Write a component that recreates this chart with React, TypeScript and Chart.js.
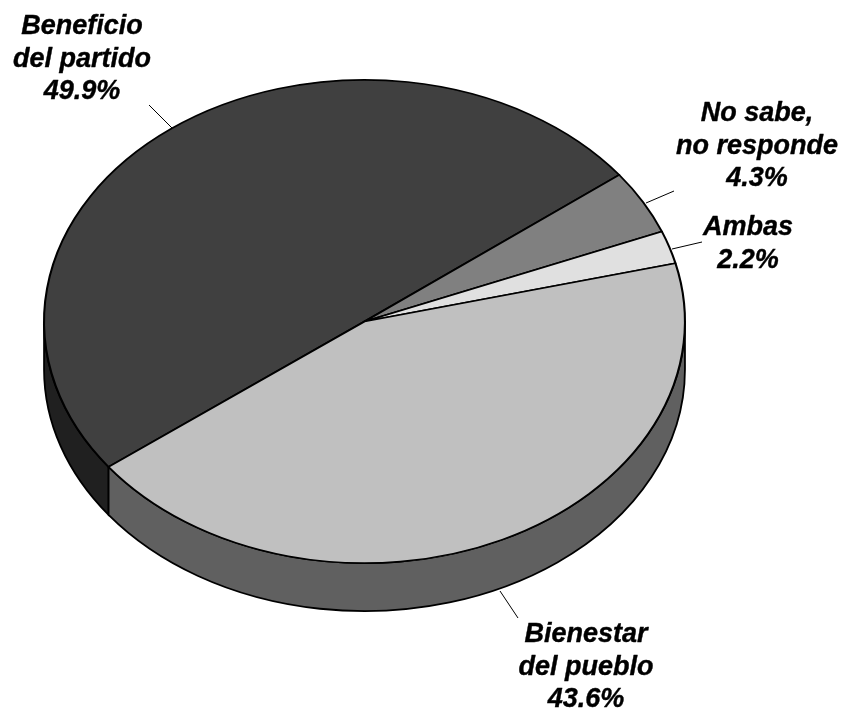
import React, { useEffect, useRef } from "react";
import { Chart, registerables } from "chart.js";

Chart.register(...registerables);

const categories = ["Beneficio del partido", "No sabe, no responde", "Ambas", "Bienestar del pueblo"];
const values = [49.9, 4.3, 2.2, 43.6];
const topColors = ["#404040", "#808080", "#e0e0e0", "#c0c0c0"];
const sideColors = ["#202020", "#404040", "#707070", "#606060"];
const labelLines = [["Beneficio", "del partido"], ["No sabe,", "no responde"], ["Ambas"], ["Bienestar", "del pueblo"]];
const labelAnchors = [[82, 34], [757, 121], [748, 235], [586, 642]];
const leaders = [
  [149, 105, 172, 128],
  [674, 191, 646, 203],
  [702, 242, 672, 249],
  [518, 618, 500, 591],
];

const SQUASH = 0.754;
const DEPTH = 48;
const LINE_HEIGHT = 32.7;

const tiltedPie = {
  id: "tiltedPie",
  beforeDatasetsDraw(chart: any) {
    const ctx = chart.ctx;
    const arcs = chart.getDatasetMeta(0).data;
    const { x: cx, y: cy, outerRadius: r } = arcs[0];
    const ry = r * SQUASH;
    ctx.save();
    ctx.strokeStyle = "#000";
    ctx.lineWidth = 1.8;
    arcs.forEach((arc: any, i: number) => {
      const tau = Math.PI * 2;
      let s = arc.startAngle % tau;
      if (s < 0) s += tau;
      const e = s + (arc.endAngle - arc.startAngle);
      [[0, Math.PI], [tau, tau + Math.PI]].forEach(([lo, hi]) => {
        const a = Math.max(s, lo);
        const b = Math.min(e, hi);
        if (b <= a) return;
        ctx.beginPath();
        ctx.ellipse(cx, cy, r, ry, 0, a, b);
        ctx.lineTo(cx + Math.cos(b) * r, cy + Math.sin(b) * ry + DEPTH);
        ctx.ellipse(cx, cy + DEPTH, r, ry, 0, b, a, true);
        ctx.closePath();
        ctx.fillStyle = sideColors[i];
        ctx.fill();
        ctx.stroke();
      });
    });
    ctx.restore();
    ctx.save();
    ctx.translate(cx, cy);
    ctx.scale(1, SQUASH);
    ctx.translate(-cx, -cy);
  },
  afterDatasetsDraw(chart: any) {
    const ctx = chart.ctx;
    ctx.restore();
    ctx.save();
    ctx.strokeStyle = "#000";
    ctx.lineWidth = 1;
    leaders.forEach(([x1, y1, x2, y2]) => {
      ctx.beginPath();
      ctx.moveTo(x1, y1);
      ctx.lineTo(x2, y2);
      ctx.stroke();
    });
    ctx.fillStyle = "#000";
    ctx.font = "italic bold 27px 'Liberation Sans', Arial, sans-serif";
    ctx.textAlign = "center";
    ctx.textBaseline = "alphabetic";
    ctx.lineWidth = 0.4;
    ctx.lineJoin = "round";
    labelLines.forEach((lines, i) => {
      const [x, y] = labelAnchors[i];
      [...lines, values[i].toFixed(1) + "%"].forEach((t, k) => {
        ctx.fillText(t, x, y + k * LINE_HEIGHT);
        ctx.strokeText(t, x, y + k * LINE_HEIGHT);
      });
    });
    ctx.restore();
  },
};

export default function App() {
  const ref = useRef<HTMLCanvasElement>(null);
  useEffect(() => {
    const chart = new Chart(ref.current as HTMLCanvasElement, {
      type: "pie",
      data: {
        labels: categories,
        datasets: [
          {
            data: values,
            backgroundColor: topColors,
            borderColor: "#000",
            borderWidth: 2.1,
            borderJoinStyle: "round",
            clip: false,
          } as any,
        ],
      },
      options: {
        responsive: false,
        animation: false,
        events: [],
        rotation: 233,
        layout: { padding: { left: 43, right: 157, top: 0, bottom: 71 } },
        plugins: { legend: { display: false }, tooltip: { enabled: false } },
      },
      plugins: [tiltedPie],
    });
    return () => chart.destroy();
  }, []);
  return (
    <div style={{ position: "absolute", left: 0, top: 0, width: 843, height: 714, background: "#fff" }}>
      <canvas ref={ref} width={843} height={714} style={{ display: "block" }} />
    </div>
  );
}
